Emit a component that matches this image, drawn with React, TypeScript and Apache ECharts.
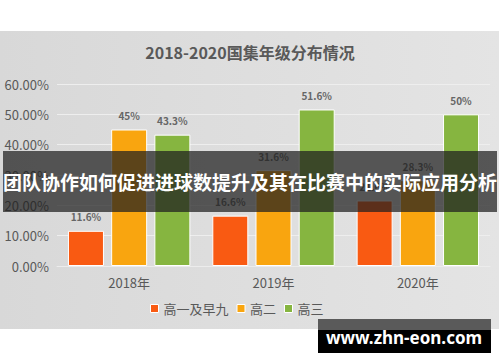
import React, { useEffect, useRef } from "react";
import * as echarts from "echarts";

const categories = ["2018年", "2019年", "2020年"];
const seriesNames = ["高一及早九", "高二", "高三"];
const gradeOne = [11.6, 16.6, 21.6];
const gradeTwo = [45, 31.6, 28.3];
const gradeThree = [43.3, 51.6, 50];
const colors = ["#F95A12", "#F9A50F", "#86B540"];
const titleText = "2018-2020国集年级分布情况";
const bannerText = "团队协作如何促进进球数提升及其在比赛中的实际应用分析";
const watermarkText = "www.zhn-eon.com";

export default function App() {
  const ref = useRef<HTMLDivElement>(null);
  useEffect(() => {
    document.body.style.margin = "0";
    const chart = echarts.init(ref.current!, null, { renderer: "svg" });
    const font = "'Noto Sans CJK SC', 'Noto Sans', sans-serif";
    const values = [gradeOne, gradeTwo, gradeThree];
    chart.setOption({
      animation: false,
      textStyle: { fontFamily: font },
      title: {
        text: titleText,
        left: "center",
        top: 39,
        textStyle: { fontSize: 16, fontWeight: "bold", color: "#595959", fontFamily: font },
      },
      legend: {
        data: seriesNames,
        top: 302,
        left: 150,
        padding: 0,
        icon: "rect",
        itemWidth: 8,
        itemHeight: 8,
        itemGap: 8,
        textStyle: { fontSize: 13, color: "#595959", fontFamily: font },
        itemStyle: { borderColor: "#ffffff", borderWidth: 1 },
      },
      grid: { left: 57, right: 10, top: 84, bottom: 96, containLabel: false },
      xAxis: {
        type: "category",
        data: categories,
        axisLine: { lineStyle: { color: "#ececec" } },
        axisTick: { show: false },
        axisLabel: { fontSize: 13, color: "#595959", margin: 10, fontFamily: font },
      },
      yAxis: {
        type: "value",
        min: 0,
        max: 60,
        interval: 10,
        axisLine: { show: false },
        axisTick: { show: false },
        splitLine: { lineStyle: { color: "#eeeeee" } },
        axisLabel: {
          fontSize: 13,
          color: "#595959",
          margin: 8,
          fontFamily: font,
          formatter: (v: number) => v.toFixed(2) + "%",
        },
      },
      series: seriesNames.map((name, i) => ({
        name,
        type: "bar",
        data: values[i],
        barWidth: 36,
        barGap: "20%",
        barCategoryGap: "15%",
        itemStyle: { color: colors[i], borderColor: "#ffffff", borderWidth: 1 },
        label: {
          show: true,
          position: "top",
          distance: 9,
          fontSize: 10,
          fontWeight: "bold",
          color: "#666666",
          fontFamily: font,
          formatter: (p: any) => p.value + "%",
        },
      })),
      graphic: [
        {
          type: "rect",
          silent: true,
          z: -10,
          zlevel: 0,
          shape: { x: 0, y: 31, width: 499, height: 298 },
          style: {
            fill: new echarts.graphic.LinearGradient(0, 0, 1, 0, [
              { offset: 0, color: "#d8d8d8" },
              { offset: 1, color: "#e4e4e4" },
            ]),
          },
        },
        {
          type: "rect",
          silent: true,
          z: 100,
          shape: { x: 3, y: 151, width: 494, height: 61 },
          style: { fill: "rgba(30,30,30,0.72)" },
        },
        {
          type: "text",
          silent: true,
          z: 101,
          x: 250,
          y: 181,
          style: {
            text: bannerText,
            fill: "#ffffff",
            font: "bold 19px 'Noto Sans CJK SC', sans-serif",
            align: "center",
            verticalAlign: "middle",
          },
        },
        {
          type: "rect",
          silent: true,
          z: 100,
          shape: { x: 318, y: 319, width: 173, height: 11 },
          style: { fill: "#5a5a5a" },
        },
        {
          type: "rect",
          silent: true,
          z: 100,
          shape: { x: 318, y: 330, width: 173, height: 23 },
          style: { fill: "#000000" },
        },
        {
          type: "text",
          silent: true,
          z: 101,
          x: 404,
          y: 337,
          style: {
            text: watermarkText,
            fill: "#ffffff",
            font: "bold 17px 'Noto Sans', sans-serif",
            align: "center",
            verticalAlign: "middle",
          },
        },
      ],
    });
    return () => chart.dispose();
  }, []);
  return <div ref={ref} style={{ width: 500, height: 362 }} />;
}
